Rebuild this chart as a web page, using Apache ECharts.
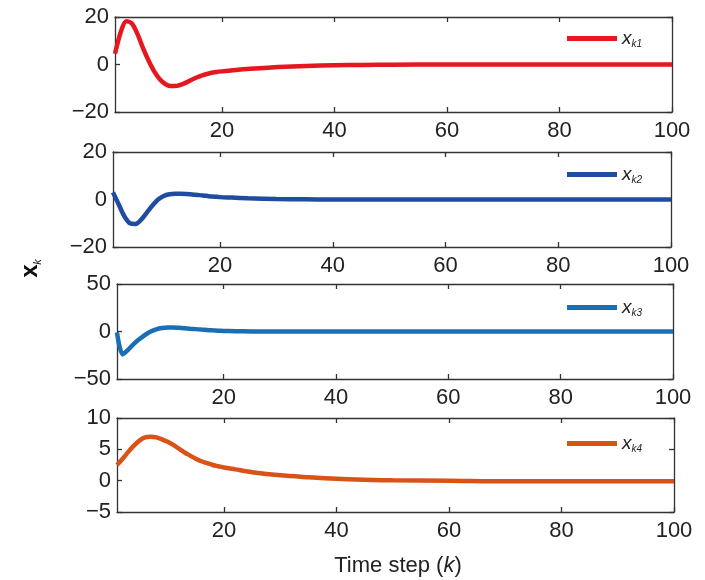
<!DOCTYPE html>
<html>
<head>
<meta charset="utf-8">
<script src="https://cdn.jsdelivr.net/npm/echarts@6/dist/echarts.min.js"></script>
<style>
html, body { margin: 0; padding: 0; background: #fff; }
#main { width: 705px; height: 580px; }
</style>
</head>
<body>
<div id="main"></div>
<script>
var steps = [1, 2, 3, 4, 5, 6, 7, 8, 9, 10, 11, 12, 13, 14, 15, 16, 17, 18, 19, 20, 22, 25, 30, 35, 40, 45, 50, 60, 70, 80, 90, 100];
var xk1 = [4.5, 13.5, 18.2, 17.3, 12.8, 6.8, 1.5, -3, -6.3, -8.3, -9.1, -9, -8.3, -7.2, -6, -5, -4.2, -3.6, -3.2, -2.9, -2.4, -1.8, -1.1, -0.6, -0.3, -0.2, -0.1, 0, 0, 0, 0, 0];
var xk2 = [3, -2, -7, -10, -10.3, -8.5, -5.5, -2.5, 0, 1.5, 2.2, 2.4, 2.4, 2.3, 2.1, 1.9, 1.7, 1.4, 1.2, 1.0, 0.8, 0.5, 0.2, 0.1, 0, 0, 0, 0, 0, 0, 0, 0];
var xk3 = [-1, -24, -19, -13, -8, -3.5, 0, 2.3, 3.6, 4.2, 4.2, 3.9, 3.5, 3, 2.5, 2, 1.6, 1.2, 0.9, 0.6, 0.3, 0.1, 0, 0, 0, 0, 0, 0, 0, 0, 0, 0];
var xk4 = [2.5, 3.5, 4.6, 5.6, 6.4, 6.9, 7, 6.9, 6.6, 6.2, 5.7, 5.1, 4.5, 4.0, 3.5, 3.1, 2.8, 2.5, 2.3, 2.1, 1.8, 1.35, 0.85, 0.55, 0.3, 0.15, 0.05, 0, -0.1, -0.1, -0.1, -0.1];

var seriesNames = ['xk1', 'xk2', 'xk3', 'xk4'];
var subLabels = ['k1', 'k2', 'k3', 'k4'];
var xTicks = [20, 40, 60, 80, 100];
var yMin = [-20, -20, -50, -5];
var yMax = [20, 20, 50, 10];
var yStep = [20, 20, 50, 5];

var allValues = [xk1, xk2, xk3, xk4];
var colors = ['#e5171f', '#1f4ba0', '#196eb4', '#d95319'];
var frames = [
    { left: 115, right: 33, top: 17, height: 95, legendTop: 24 },
    { left: 113, right: 34, top: 152, height: 95, legendTop: 160 },
    { left: 117, right: 32, top: 284, height: 95, legendTop: 293 },
    { left: 117, right: 31, top: 418, height: 94, legendTop: 429 }
];

var font = '"Liberation Sans", Arial, Helvetica, sans-serif';
var ink = '#222';
var frameLine = { color: '#333', width: 1.3 };

var myChart = echarts.init(document.getElementById('main'));

var option = {
    animation: false,
    backgroundColor: '#fff',
    grid: [],
    xAxis: [],
    yAxis: [],
    legend: [],
    series: [],
    graphic: [
        {
            type: 'text', x: 30, y: 271, rotation: Math.PI / 2,
            style: { text: 'x', font: 'bold 24px ' + font, fill: '#111', align: 'center', verticalAlign: 'middle' }
        },
        {
            type: 'text', x: 38, y: 262, rotation: Math.PI / 2,
            style: { text: 'k', font: 'italic 11px ' + font, fill: '#111', align: 'center', verticalAlign: 'middle' }
        },
        {
            type: 'text', x: 398, y: 566,
            style: {
                text: '{n|Time step (}{i|k}{n|)}',
                align: 'center', verticalAlign: 'middle',
                rich: {
                    n: { fontFamily: font, fontSize: 22, fill: ink },
                    i: { fontFamily: font, fontSize: 22, fontStyle: 'italic', fill: ink }
                }
            }
        }
    ]
};

for (var i = 0; i < 4; i++) {
    var f = frames[i];
    option.grid.push({ left: f.left, right: f.right, top: f.top, height: f.height, show: false });

    // bottom axis with labels
    option.xAxis.push({
        gridIndex: i, type: 'value', min: 1, max: 100, position: 'bottom',
        axisLine: { show: true, onZero: false, lineStyle: frameLine },
        axisTick: { show: true, inside: true, length: 5, customValues: xTicks, lineStyle: frameLine },
        axisLabel: { customValues: xTicks, margin: 8, fontSize: 22, fontFamily: font, color: ink },
        splitLine: { show: false }
    });
    // top axis, ticks only
    option.xAxis.push({
        gridIndex: i, type: 'value', min: 1, max: 100, position: 'top',
        axisLine: { show: true, onZero: false, lineStyle: frameLine },
        axisTick: { show: true, inside: true, length: 5, customValues: xTicks, lineStyle: frameLine },
        axisLabel: { show: false },
        splitLine: { show: false }
    });
    option.yAxis.push({
        gridIndex: i, type: 'value', min: yMin[i], max: yMax[i], interval: yStep[i], position: 'left',
        axisLine: { show: true, onZero: false, lineStyle: frameLine },
        axisTick: { show: true, inside: true, length: 5, lineStyle: frameLine },
        axisLabel: {
            margin: 6, fontSize: 22, fontFamily: font, color: ink,
            formatter: function (v) { return String(v).replace('-', '\u2212'); }
        },
        splitLine: { show: false }
    });
    option.yAxis.push({
        gridIndex: i, type: 'value', min: yMin[i], max: yMax[i], interval: yStep[i], position: 'right',
        axisLine: { show: true, onZero: false, lineStyle: frameLine },
        axisTick: { show: true, inside: true, length: 5, lineStyle: frameLine },
        axisLabel: { show: false },
        splitLine: { show: false }
    });

    var pts = [];
    for (var j = 0; j < steps.length; j++) {
        pts.push([steps[j], allValues[i][j]]);
    }
    option.series.push({
        name: seriesNames[i],
        type: 'line',
        xAxisIndex: 2 * i,
        yAxisIndex: 2 * i,
        data: pts,
        smooth: 0.3,
        showSymbol: false,
        lineStyle: { width: 4.5, color: colors[i] },
        itemStyle: { color: colors[i] }
    });

    (function (sub) {
        option.legend.push({
            data: [seriesNames[i]],
            left: 562,
            top: f.legendTop,
            icon: 'rect',
            itemWidth: 50,
            itemHeight: 5,
            selectedMode: false,
            formatter: function () { return '{x|x}{s|' + sub + '}'; },
            textStyle: {
                rich: {
                    x: { fontFamily: font, fontSize: 19, fontStyle: 'italic', color: ink },
                    s: { fontFamily: font, fontSize: 10, fontStyle: 'italic', color: ink, padding: [12, 0, 0, 0] }
                }
            }
        });
    })(subLabels[i]);
}

myChart.setOption(option);
</script>
</body>
</html>
